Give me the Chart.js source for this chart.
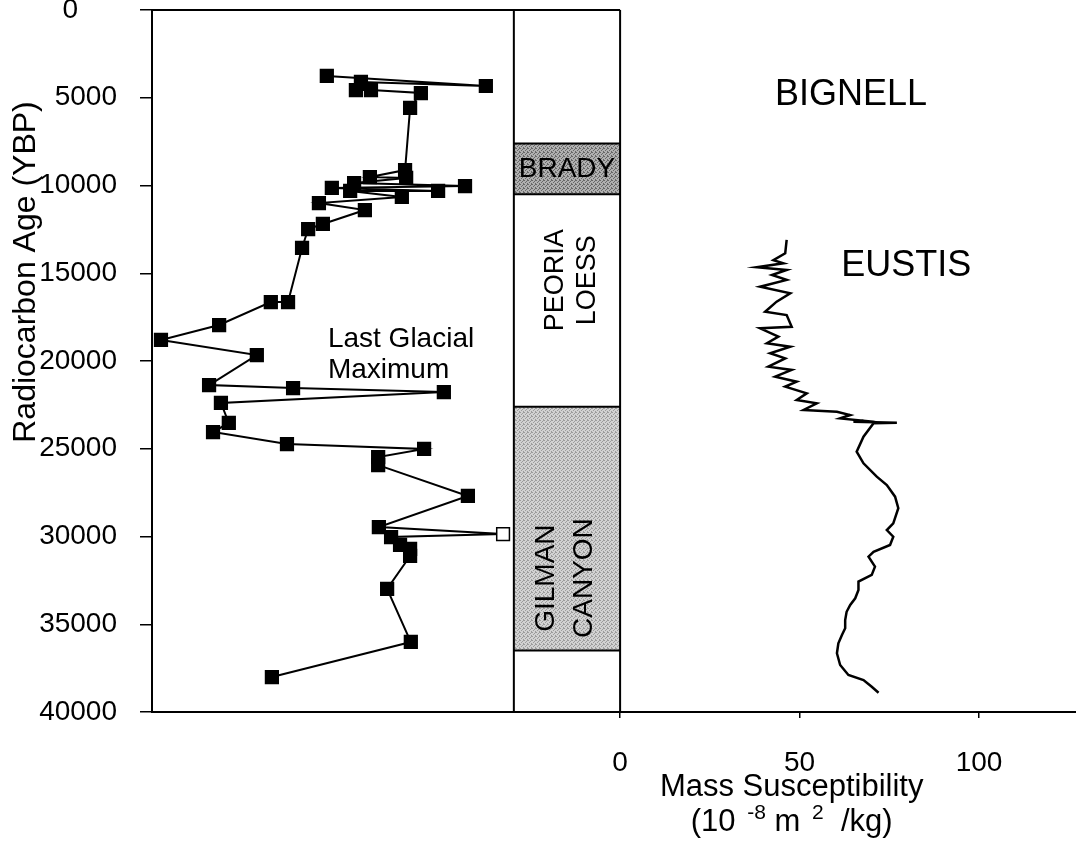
<!DOCTYPE html>
<html>
<head>
<meta charset="utf-8">
<script src="https://cdn.jsdelivr.net/npm/chart.js@4.4.1/dist/chart.umd.min.js"></script>
<style>
  html, body { margin: 0; padding: 0; background: #fff; }
  #wrap { width: 1076px; height: 842px; position: relative; }
</style>
</head>
<body>
<div id="wrap"><canvas id="chart"></canvas></div>
<script>
const FONT = '"Liberation Sans", Arial, Helvetica, sans-serif';

// axis ticks
const ageTicks = [0, 5000, 10000, 15000, 20000, 25000, 30000, 35000, 40000];
const suscTicks = [0, 50, 100];

// radiocarbon samples (left panel, unitless horizontal position)
const sampleAge = [3760, 4330, 4100, 4560, 4560, 4730, 5580, 9120, 9520, 9570, 9860, 10030, 10140, 10310, 10310, 10650,
    11000, 11400, 12190, 12480, 13560, 16640, 16640, 17950, 18800, 19660, 21370, 21540, 21770, 22390, 23530, 24050,
    24730, 25010, 25470, 25930, 27690, 29460, 29860, 30030, 30480, 30710, 31110, 32990, 36010, 38010];
const sampleValue = [48.7, 93.0, 58.2, 56.8, 61.0, 74.9, 71.9, 70.5, 60.7, 70.8, 56.3, 87.2, 50.1, 79.7, 55.2, 69.6,
    46.5, 59.3, 47.6, 43.5, 41.8, 37.9, 33.1, 18.7, 2.5, 29.2, 15.9, 39.3, 81.3, 19.2, 21.4, 17.0,
    37.6, 75.8, 63.0, 63.0, 88.0, 63.2, 97.8, 66.6, 69.1, 71.9, 71.9, 65.5, 72.1, 33.4];
const openSamples = [38];

// Eustis mass susceptibility profile
const eustisAge = [13100, 13860, 14250, 14430, 14660, 14810, 15100, 15380, 15770, 16140, 16620, 17190, 17380, 18050,
    18140, 18610, 18990, 19190, 19560, 19850, 20320, 20510, 20890, 21180, 21460, 21840, 22220, 22410, 22790, 22890,
    23080, 23270, 23400, 23460, 23520, 23550, 24310, 25170, 25830, 26590, 27070, 27730, 28390, 29250, 29630, 30010,
    30480, 30870, 31150, 31720, 32190, 32570, 33050, 33520, 33900, 34290, 34760, 35230, 35610, 36090, 36650, 37320,
    37890, 38180, 38560, 38900];
const eustisSusc = [46.4, 46.0, 42.7, 45.5, 38.1, 46.4, 42.3, 46.4, 39.0, 47.4, 43.6, 40.4, 46.4, 47.8,
    39.0, 44.1, 40.9, 47.4, 41.8, 46.0, 41.3, 47.8, 43.2, 49.2, 46.0, 52.0, 49.2, 54.8, 51.1, 60.4,
    64.1, 61.3, 67.8, 65.0, 77.1, 70.6, 67.8, 65.9, 67.8, 71.5, 74.3, 76.6, 77.5, 76.1, 74.3, 76.1,
    75.2, 70.6, 69.2, 71.0, 70.1, 66.4, 66.4, 65.5, 64.1, 63.1, 62.7, 62.7, 61.8, 60.8, 60.4, 61.3,
    63.6, 67.8, 70.1, 72.0];

// stratigraphic units
const unitNames = ['BRADY', 'PEORIA LOESS', 'GILMAN CANYON'];
const unitTop = [7600, 10500, 22600];
const unitBottom = [10500, 22600, 36500];

const COLUMN_LEFT = 100.8; // on the sample axis
const COLUMN_RIGHT = 0;    // on the susceptibility axis

function stipple(ctx, base, dot) {
    const c = document.createElement('canvas');
    c.width = 4; c.height = 4;
    const g = c.getContext('2d');
    g.fillStyle = base; g.fillRect(0, 0, 4, 4);
    g.fillStyle = dot;
    [[0, 0], [2, 1], [1, 2], [3, 3], [3, 0]].forEach(p => g.fillRect(p[0], p[1], 1, 1));
    return ctx.createPattern(c, 'repeat');
}

const figurePlugin = {
    id: 'figure',
    beforeDatasetsDraw(chart) {
        const { ctx, chartArea, scales: { x, xL, y } } = chart;
        const cl = xL.getPixelForValue(COLUMN_LEFT);
        const cr = x.getPixelForValue(COLUMN_RIGHT);
        const shades = [stipple(ctx, '#b0b0b0', '#686868'), null, stipple(ctx, '#d2d2d2', '#9c9c9c')];
        ctx.save();
        unitNames.forEach((n, i) => {
            if (!shades[i]) return;
            const t = y.getPixelForValue(unitTop[i]);
            const b = y.getPixelForValue(unitBottom[i]);
            ctx.fillStyle = shades[i];
            ctx.fillRect(cl, t, cr - cl, b - t);
        });
        ctx.strokeStyle = '#000';
        ctx.lineWidth = 2;
        ctx.beginPath();
        ctx.moveTo(chartArea.left, chartArea.top); ctx.lineTo(cr, chartArea.top);
        ctx.moveTo(cl, chartArea.top); ctx.lineTo(cl, chartArea.bottom);
        ctx.moveTo(cr, chartArea.top); ctx.lineTo(cr, chartArea.bottom);
        [unitTop[0], unitBottom[0], unitTop[2], unitBottom[2]].forEach(v => {
            const py = y.getPixelForValue(v);
            ctx.moveTo(cl, py); ctx.lineTo(cr, py);
        });
        ctx.stroke();
        ctx.restore();
    },
    afterDatasetsDraw(chart) {
        const { ctx, scales: { x, xL, y } } = chart;
        const cl = xL.getPixelForValue(COLUMN_LEFT);
        const cr = x.getPixelForValue(COLUMN_RIGHT);
        const cc = (cl + cr) / 2;
        ctx.save();
        ctx.fillStyle = '#000';

        ctx.textAlign = 'center';
        ctx.textBaseline = 'alphabetic';
        ctx.font = '36px ' + FONT;
        ctx.fillText('BIGNELL', x.getPixelForValue(64.3), y.getPixelForValue(5410));
        ctx.fillText('EUSTIS', x.getPixelForValue(79.7), y.getPixelForValue(15160));

        ctx.textAlign = 'left';
        ctx.font = '28px ' + FONT;
        ctx.fillText('Last Glacial', xL.getPixelForValue(49.0), y.getPixelForValue(19200));
        ctx.fillText('Maximum', xL.getPixelForValue(49.0), y.getPixelForValue(20970));

        // unit labels
        ctx.textAlign = 'center';
        ctx.textBaseline = 'middle';
        ctx.fillText(unitNames[0], cc, y.getPixelForValue((unitTop[0] + unitBottom[0]) / 2));

        const vertical = (lines, cy, offsets) => {
            lines.forEach((s, k) => {
                ctx.save();
                ctx.translate(cc + offsets[k], cy);
                ctx.rotate(-Math.PI / 2);
                ctx.fillText(s, 0, 0);
                ctx.restore();
            });
        };
        ctx.font = '27px ' + FONT;
        vertical(unitNames[1].split(' '), y.getPixelForValue(15400), [-11, 21]);
        ctx.font = '28px ' + FONT;
        vertical(unitNames[2].split(' '), y.getPixelForValue(32370), [-21, 17]);

        // y axis title
        ctx.save();
        ctx.font = '32px ' + FONT;
        ctx.textBaseline = 'alphabetic';
        ctx.translate(35, 272);
        ctx.rotate(-Math.PI / 2);
        ctx.fillText('Radiocarbon Age (YBP)', 0, 0);
        ctx.restore();

        // x axis title
        const tx = x.getPixelForValue(47.8);
        ctx.textBaseline = 'alphabetic';
        ctx.font = '31px ' + FONT;
        ctx.fillText('Mass Susceptibility', tx, 796);

        const parts = [['(10', 31, 0], ['  -8', 21, -12], [' m', 31, 0], ['  2', 21, -12], ['  /kg)', 31, 0]];
        let total = 0;
        parts.forEach(p => { ctx.font = p[1] + 'px ' + FONT; total += ctx.measureText(p[0]).width; });
        let px = tx - total / 2;
        ctx.textAlign = 'left';
        parts.forEach(p => {
            ctx.font = p[1] + 'px ' + FONT;
            ctx.fillText(p[0], px, 831 + p[2]);
            px += ctx.measureText(p[0]).width;
        });
        ctx.restore();
    }
};

const ctx = document.getElementById('chart').getContext('2d');
new Chart(ctx, {
    type: 'scatter',
    data: {
        datasets: [
            {
                label: 'Radiocarbon samples',
                data: sampleAge.map((a, i) => ({ x: sampleValue[i], y: a })),
                xAxisID: 'xL',
                showLine: true,
                borderColor: '#000',
                borderWidth: 2,
                pointStyle: 'rect',
                pointRadius: 9,
                pointBorderWidth: 1.5,
                pointBorderColor: '#000',
                pointBackgroundColor: sampleAge.map((a, i) => openSamples.includes(i) ? '#fff' : '#000')
            },
            {
                label: 'Eustis',
                data: eustisAge.map((a, i) => ({ x: eustisSusc[i], y: a })),
                xAxisID: 'x',
                showLine: true,
                borderColor: '#000',
                borderWidth: 2.5,
                pointRadius: 0
            }
        ]
    },
    options: {
        responsive: true,
        maintainAspectRatio: false,
        animation: false,
        layout: { autoPadding: false, padding: { top: 10, right: 0, bottom: 0, left: 0 } },
        plugins: { legend: { display: false }, tooltip: { enabled: false } },
        scales: {
            x: {
                type: 'linear',
                position: 'bottom',
                min: -130.4,
                max: 127,
                afterBuildTicks: s => { s.ticks = suscTicks.map(v => ({ value: v })); },
                afterFit: s => { s.height = 130; s.paddingLeft = 0; s.paddingRight = 0; },
                grid: { drawOnChartArea: false, tickLength: 6, color: '#000', lineWidth: 1.5 },
                border: { color: '#000', width: 2 },
                ticks: { color: '#000', font: { family: FONT, size: 28 }, padding: 28, maxRotation: 0, autoSkip: false }
            },
            xL: {
                type: 'linear',
                display: false,
                min: 0,
                max: 257.4
            },
            y: {
                type: 'linear',
                reverse: true,
                min: 0,
                max: 40000,
                afterBuildTicks: s => { s.ticks = ageTicks.map(v => ({ value: v })); },
                afterFit: s => { s.width = 152; s.paddingTop = 0; s.paddingBottom = 0; },
                grid: { drawOnChartArea: false, tickLength: 12, color: '#000', lineWidth: 1.5 },
                border: { color: '#000', width: 2 },
                // the top "0" sits further left in the original figure
                ticks: { color: '#000', font: { family: FONT, size: 28 }, padding: 23,
                         callback: v => v === 0 ? '0     ' : String(v) }
            }
        }
    },
    plugins: [figurePlugin]
});
</script>
</body>
</html>
